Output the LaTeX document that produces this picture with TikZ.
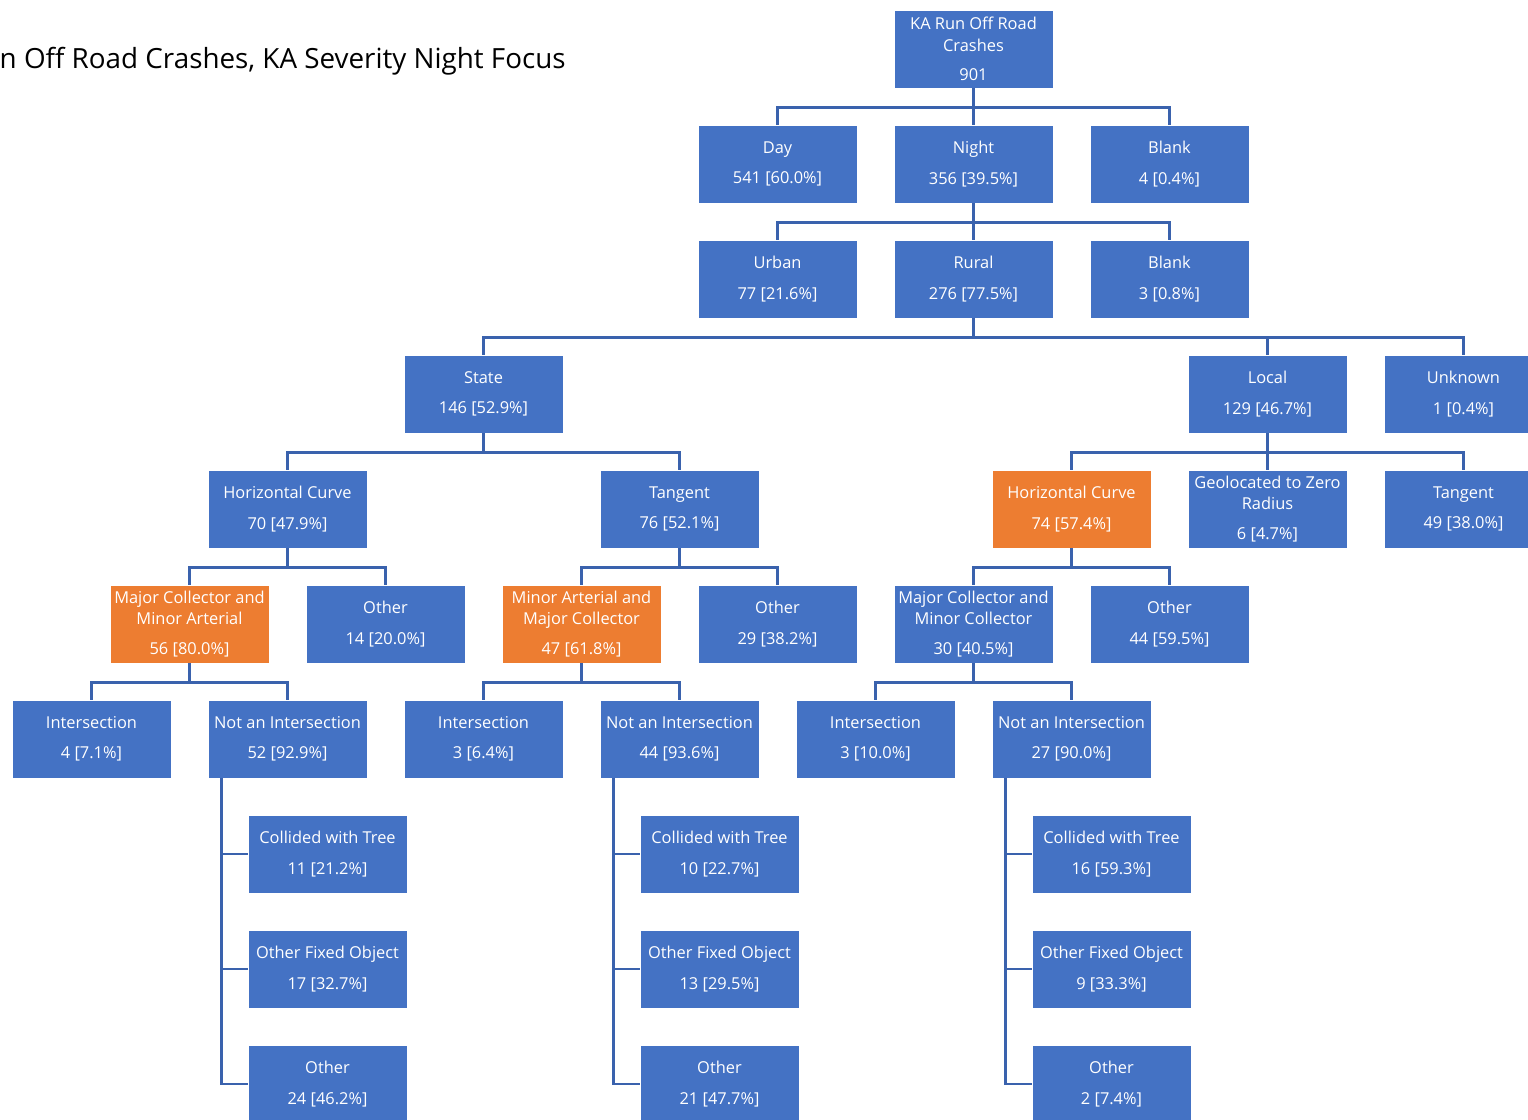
\documentclass[tikz,border=0pt]{standalone}
\usepackage{fontspec}
\setmainfont{Open Sans}
\usetikzlibrary{positioning}
\definecolor{BoxBlue}{HTML}{4472C4}
\definecolor{BoxOrange}{HTML}{ED7D31}
\definecolor{LinkBlue}{HTML}{3A62AD}

\begin{document}
\begin{tikzpicture}[
  x=0.5pt, y=-0.5pt,
  box/.style={
    draw=white,
    line width=0.4pt,
    rectangle,
    minimum width=79.5pt,
    minimum height=39pt,
    inner sep=1pt,
    align=center,
    font=\fontsize{8.2}{10.6}\selectfont,
    text=white,
    fill=BoxBlue
  },
  bluebox/.style={box, fill=BoxBlue},
  orangebox/.style={box, fill=BoxOrange},
  link/.style={
    draw=LinkBlue,
    line width=1.4pt
  }
]
\useasboundingbox (0,0) rectangle (1528,1120);

% Title
\node[anchor=east, font=\fontsize{13.9}{16}\selectfont, inner sep=0pt]
  (title) at (566,61) {n Off Road Crashes, KA Severity Night Focus};

% Nodes
\node[bluebox] (root)   at (973.5,49)  {KA Run Off Road\\Crashes\\[4pt]901};

\node[bluebox] (day)    at (777.5,164)  {Day\\[4.5pt]541 [60.0\%]};
\node[bluebox] (night)  at (973.5,164)  {Night\\[4.5pt]356 [39.5\%]};
\node[bluebox] (blanka) at (1169.5,164) {Blank\\[4.5pt]4 [0.4\%]};

\node[bluebox] (urban)  at (777.5,279)  {Urban\\[4.5pt]77 [21.6\%]};
\node[bluebox] (rural)  at (973.5,279)  {Rural\\[4.5pt]276 [77.5\%]};
\node[bluebox] (blankb) at (1169.5,279) {Blank\\[4.5pt]3 [0.8\%]};

\node[bluebox] (state)   at (483.5,394)  {State\\[4.5pt]146 [52.9\%]};
\node[bluebox] (local)   at (1267.5,394) {Local\\[4.5pt]129 [46.7\%]};
\node[bluebox] (unknown) at (1463.5,394) {Unknown\\[4.5pt]1 [0.4\%]};

\node[bluebox]   (curvea)   at (287.5,509)  {Horizontal Curve\\[4.5pt]70 [47.9\%]};
\node[bluebox]   (tangenta) at (679.5,509)  {Tangent\\[4.5pt]76 [52.1\%]};
\node[orangebox] (curveb)   at (1071.5,509) {Horizontal Curve\\[4.5pt]74 [57.4\%]};
\node[bluebox]   (zeroradius) at (1267.5,509) {Geolocated to Zero\\Radius\\[4pt]6 [4.7\%]};
\node[bluebox]   (tangentb) at (1463.5,509) {Tangent\\[4.5pt]49 [38.0\%]};

\node[orangebox] (classa) at (189.5,624)  {Major Collector and\\Minor Arterial\\[4pt]56 [80.0\%]};
\node[bluebox]   (othera) at (385.5,624)  {Other\\[4.5pt]14 [20.0\%]};
\node[orangebox] (classb) at (581.5,624)  {Minor Arterial and\\Major Collector\\[4pt]47 [61.8\%]};
\node[bluebox]   (otherb) at (777.5,624)  {Other\\[4.5pt]29 [38.2\%]};
\node[bluebox]   (classc) at (973.5,624)  {Major Collector and\\Minor Collector\\[4pt]30 [40.5\%]};
\node[bluebox]   (otherc) at (1169.5,624) {Other\\[4.5pt]44 [59.5\%]};

\node[bluebox] (intera) at (91.5,739)   {Intersection\\[4.5pt]4 [7.1\%]};
\node[bluebox] (notia)  at (287.5,739)  {Not an Intersection\\[4.5pt]52 [92.9\%]};
\node[bluebox] (interb) at (483.5,739)  {Intersection\\[4.5pt]3 [6.4\%]};
\node[bluebox] (notib)  at (679.5,739)  {Not an Intersection\\[4.5pt]44 [93.6\%]};
\node[bluebox] (interc) at (875.5,739)  {Intersection\\[4.5pt]3 [10.0\%]};
\node[bluebox] (notic)  at (1071.5,739) {Not an Intersection\\[4.5pt]27 [90.0\%]};

\node[bluebox] (treea)  at (327.5,854)  {Collided with Tree\\[4.5pt]11 [21.2\%]};
\node[bluebox] (fixeda) at (327.5,969)  {Other Fixed Object\\[4.5pt]17 [32.7\%]};
\node[bluebox] (resta)  at (327.5,1084) {Other\\[4.5pt]24 [46.2\%]};

\node[bluebox] (treeb)  at (719.5,854)  {Collided with Tree\\[4.5pt]10 [22.7\%]};
\node[bluebox] (fixedb) at (719.5,969)  {Other Fixed Object\\[4.5pt]13 [29.5\%]};
\node[bluebox] (restb)  at (719.5,1084) {Other\\[4.5pt]21 [47.7\%]};

\node[bluebox] (treec)  at (1111.5,854)  {Collided with Tree\\[4.5pt]16 [59.3\%]};
\node[bluebox] (fixedc) at (1111.5,969)  {Other Fixed Object\\[4.5pt]9 [33.3\%]};
\node[bluebox] (restc)  at (1111.5,1084) {Other\\[4.5pt]2 [7.4\%]};

% Elbow connectors, parent to child
\foreach \p/\c in {root/day, root/night, root/blanka,
                   night/urban, night/rural, night/blankb,
                   rural/state, rural/local, rural/unknown,
                   state/curvea, state/tangenta,
                   local/curveb, local/zeroradius, local/tangentb,
                   curvea/classa, curvea/othera,
                   tangenta/classb, tangenta/otherb,
                   curveb/classc, curveb/otherc,
                   classa/intera, classa/notia,
                   classb/interb, classb/notib,
                   classc/interc, classc/notic}
  \draw[link] (\p.south) -- ++(0,19) -| (\c.north);

% Side connectors down the left of each leaf column
\foreach \p/\c in {notia/treea, notia/fixeda, notia/resta,
                   notib/treeb, notib/fixedb, notib/restb,
                   notic/treec, notic/fixedc, notic/restc}
  \draw[link] ([xshift=7pt]\p.south west) |- (\c.west);

\end{tikzpicture}
\end{document}
